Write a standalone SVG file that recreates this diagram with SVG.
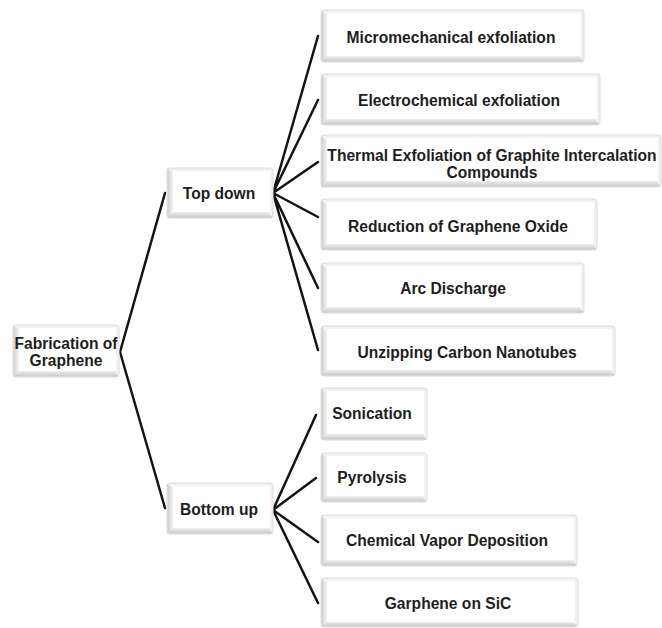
<svg xmlns="http://www.w3.org/2000/svg" width="662" height="628" viewBox="0 0 662 628">
<defs>
<linearGradient id="lg" x1="0" y1="0" x2="1" y2="0">
<stop offset="0" stop-color="#cfcfcf"/><stop offset="1" stop-color="#f4f4f4"/>
</linearGradient>
<linearGradient id="bg" x1="0" y1="0" x2="0" y2="1">
<stop offset="0" stop-color="#eeeeee"/><stop offset="1" stop-color="#c8c8c8"/>
</linearGradient>
</defs>
<style>
.o{fill:#f2f2f2;stroke:#dcdcdc;stroke-width:1}
.l{fill:url(#lg)}
.b{fill:url(#bg)}
.i{fill:#ffffff}
text{font-family:"Liberation Sans",Arial,sans-serif;font-weight:bold;font-size:15.6px;fill:#1e1e1e;text-anchor:middle}
.c{stroke:#141414;stroke-width:2.5;fill:none;stroke-linecap:round}
</style>
<g id="connectors">
<path class="c" d="M120,352 L165,193 M120,352 L165,508"/>
<path class="c" d="M273,193 L318,36 M273,193 L318,100 M273,193 L318,162 M273,193 L318,217 M273,193 L318,288 M273,193 L318,350"/>
<path class="c" d="M273,510 L316,415 M273,510 L316,478 M273,510 L318,542 M273,510 L318,603"/>
</g>
<g id="n-root">
<rect class="o" x="13" y="325" width="106" height="52" rx="3"/>
<polygon class="l" points="13.5,325.5 19,331 19,371 13.5,376.5"/>
<polygon class="b" points="13.5,376.5 19,371 114,371 118.5,376.5"/>
<rect class="i" x="19" y="328" width="97" height="43"/>
<text x="66" y="348.5">Fabrication of</text>
<text x="66" y="365.5">Graphene</text>
</g>
<g id="n-topdown">
<rect class="o" x="167" y="168" width="106" height="50" rx="3"/>
<polygon class="l" points="167.5,168.5 173,174 173,212 167.5,217.5"/>
<polygon class="b" points="167.5,217.5 173,212 268,212 272.5,217.5"/>
<rect class="i" x="173" y="171" width="97" height="41"/>
<text x="219" y="198.5">Top down</text>
</g>
<g id="n-bottomup">
<rect class="o" x="167" y="483" width="106" height="51" rx="3"/>
<polygon class="l" points="167.5,483.5 173,489 173,528 167.5,533.5"/>
<polygon class="b" points="167.5,533.5 173,528 268,528 272.5,533.5"/>
<rect class="i" x="173" y="486" width="97" height="42"/>
<text x="219" y="514.5">Bottom up</text>
</g>
<g id="n-micro">
<rect class="o" x="321" y="10" width="263" height="52" rx="3"/>
<polygon class="l" points="321.5,10.5 327,16 327,56 321.5,61.5"/>
<polygon class="b" points="321.5,61.5 327,56 579,56 583.5,61.5"/>
<rect class="i" x="327" y="13" width="254" height="43"/>
<text x="451" y="42.5">Micromechanical exfoliation</text>
</g>
<g id="n-electro">
<rect class="o" x="321" y="74" width="279" height="51" rx="3"/>
<polygon class="l" points="321.5,74.5 327,80 327,119 321.5,124.5"/>
<polygon class="b" points="321.5,124.5 327,119 595,119 599.5,124.5"/>
<rect class="i" x="327" y="77" width="270" height="42"/>
<text x="459" y="105.5">Electrochemical exfoliation</text>
</g>
<g id="n-thermal">
<rect class="o" x="321" y="135" width="340" height="52" rx="3"/>
<polygon class="l" points="321.5,135.5 327,141 327,181 321.5,186.5"/>
<polygon class="b" points="321.5,186.5 327,181 656,181 660.5,186.5"/>
<rect class="i" x="327" y="138" width="331" height="43"/>
<text x="492" y="160.5">Thermal Exfoliation of Graphite Intercalation</text>
<text x="492" y="177.5">Compounds</text>
</g>
<g id="n-reduction">
<rect class="o" x="321" y="199" width="276" height="51" rx="3"/>
<polygon class="l" points="321.5,199.5 327,205 327,244 321.5,249.5"/>
<polygon class="b" points="321.5,249.5 327,244 592,244 596.5,249.5"/>
<rect class="i" x="327" y="202" width="267" height="42"/>
<text x="458" y="231.5">Reduction of Graphene Oxide</text>
</g>
<g id="n-arc">
<rect class="o" x="321" y="263" width="263" height="50" rx="3"/>
<polygon class="l" points="321.5,263.5 327,269 327,307 321.5,312.5"/>
<polygon class="b" points="321.5,312.5 327,307 579,307 583.5,312.5"/>
<rect class="i" x="327" y="266" width="254" height="41"/>
<text x="453" y="293.5">Arc Discharge</text>
</g>
<g id="n-unzip">
<rect class="o" x="321" y="326" width="294" height="50" rx="3"/>
<polygon class="l" points="321.5,326.5 327,332 327,370 321.5,375.5"/>
<polygon class="b" points="321.5,375.5 327,370 610,370 614.5,375.5"/>
<rect class="i" x="327" y="329" width="285" height="41"/>
<text x="467" y="357.5">Unzipping Carbon Nanotubes</text>
</g>
<g id="n-sonication">
<rect class="o" x="321" y="388" width="106" height="52" rx="3"/>
<polygon class="l" points="321.5,388.5 327,394 327,434 321.5,439.5"/>
<polygon class="b" points="321.5,439.5 327,434 422,434 426.5,439.5"/>
<rect class="i" x="327" y="391" width="97" height="43"/>
<text x="372" y="418.5">Sonication</text>
</g>
<g id="n-pyrolysis">
<rect class="o" x="321" y="453" width="106" height="49" rx="3"/>
<polygon class="l" points="321.5,453.5 327,459 327,496 321.5,501.5"/>
<polygon class="b" points="321.5,501.5 327,496 422,496 426.5,501.5"/>
<rect class="i" x="327" y="456" width="97" height="40"/>
<text x="372" y="482.5">Pyrolysis</text>
</g>
<g id="n-cvd">
<rect class="o" x="321" y="515" width="256" height="51" rx="3"/>
<polygon class="l" points="321.5,515.5 327,521 327,560 321.5,565.5"/>
<polygon class="b" points="321.5,565.5 327,560 572,560 576.5,565.5"/>
<rect class="i" x="327" y="518" width="247" height="42"/>
<text x="447" y="545.5">Chemical Vapor Deposition</text>
</g>
<g id="n-sic">
<rect class="o" x="321" y="578" width="257" height="49" rx="3"/>
<polygon class="l" points="321.5,578.5 327,584 327,622 321.5,626.5"/>
<polygon class="b" points="321.5,626.5 327,622 573,622 577.5,626.5"/>
<rect class="i" x="327" y="581" width="248" height="41"/>
<text x="448" y="608.5">Garphene on SiC</text>
</g>
</svg>
